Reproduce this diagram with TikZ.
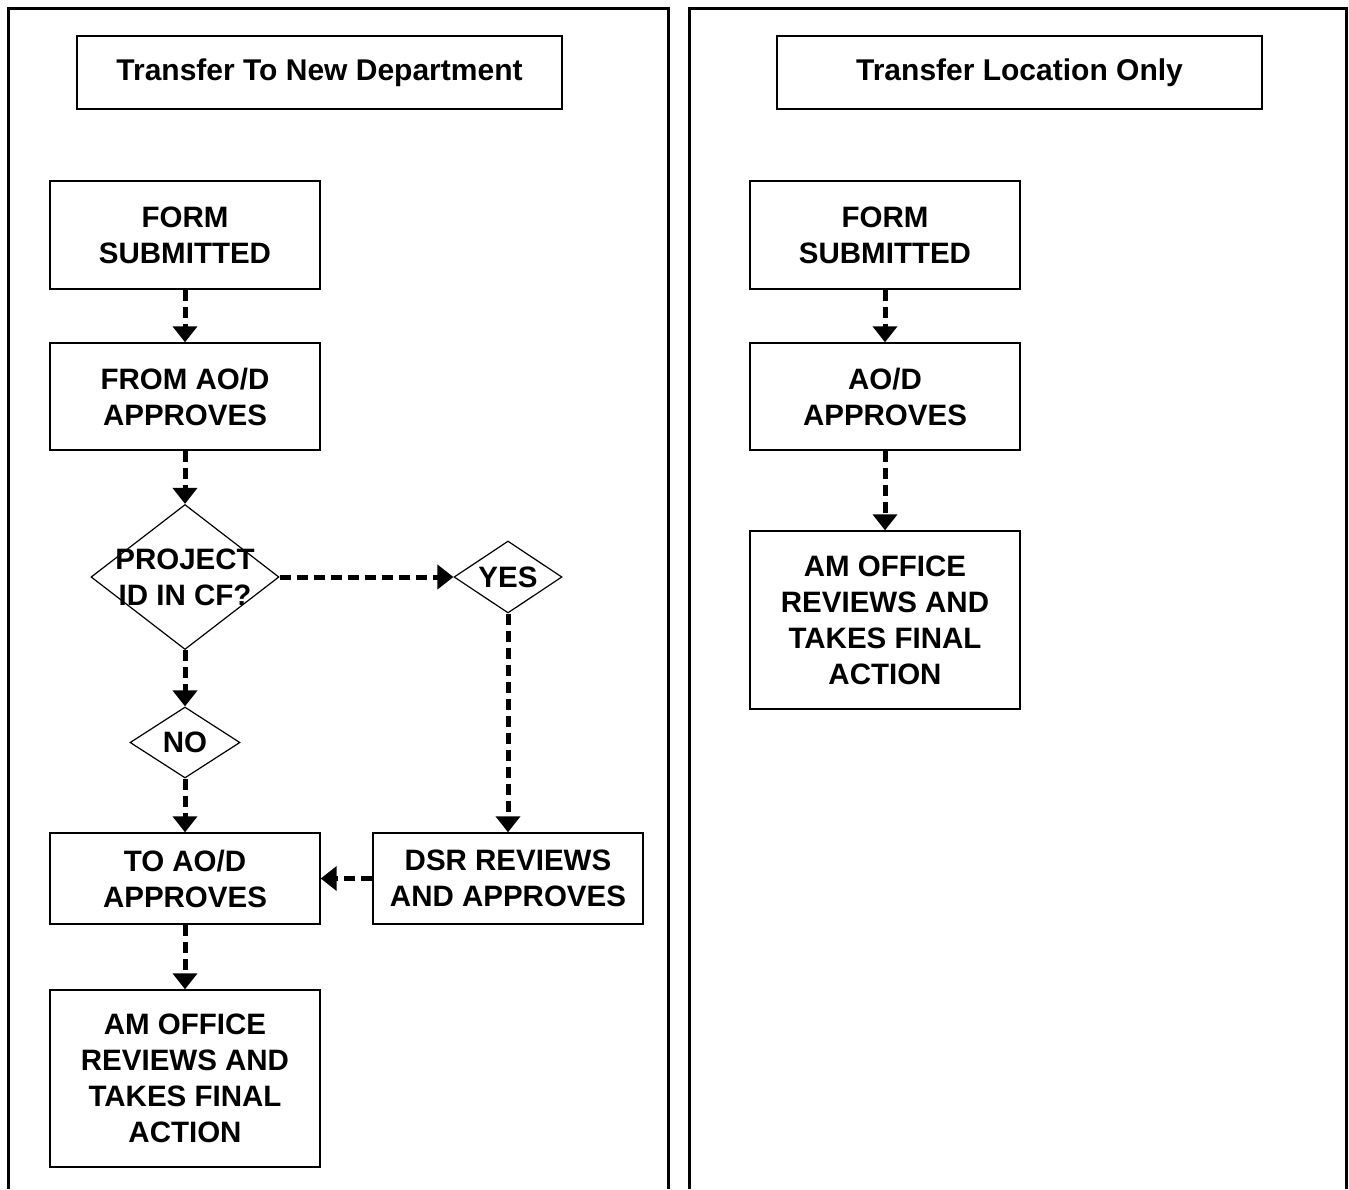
\documentclass[tikz,border=0pt]{standalone}
\usepackage{fontspec}
\setmainfont{Liberation Sans}
\usetikzlibrary{shapes.geometric,arrows.meta}

\tikzset{
  panel/.style={line width=3pt},
  stepbox/.style={draw, line width=1.4pt, minimum width=270pt, align=center,
    font=\fontsize{29.5}{36}\selectfont\bfseries, inner sep=0pt},
  titlebox/.style={draw, line width=1.4pt, minimum width=485pt, minimum height=73pt,
    font=\fontsize{30}{36}\selectfont\bfseries, inner sep=0pt},
  decision/.style={draw, diamond, line width=1.2pt, inner sep=0pt},
  txt/.style={align=center, font=\fontsize{29.5}{36}\selectfont\bfseries, inner sep=0pt},
  flow/.style={-{Triangle[length=16pt,width=24pt]}, line width=5pt,
    dash pattern=on 11pt off 6pt}
}

\begin{document}
\begin{tikzpicture}[x=1pt,y=-1pt]
\useasboundingbox (0,0) rectangle (1349,1189);

% panels
\draw[panel] (8,1189) -- (8,8) -- (668,8) -- (668,1189);
\draw[panel] (689,1189) -- (689,8) -- (1346,8) -- (1346,1189);

% left column
\node[titlebox] (tdept) at (319.5,72.5) {Transfer To New Department};
\node[stepbox, minimum height=108pt] (lform) at (185,235) {FORM\\SUBMITTED};
\node[stepbox, minimum height=107pt] (fromao) at (185,396.5) {FROM AO/D\\APPROVES};
\node[decision, minimum width=188pt, minimum height=145pt] (proj) at (185,577) {};
\node[txt] (projtxt) at (proj) {PROJECT\\ID IN CF?};
\node[decision, minimum width=108pt, minimum height=72pt] (yes) at (508,577) {};
\node[txt] (yestxt) at (yes) {YES};
\node[decision, minimum width=110pt, minimum height=71pt] (no) at (185,742.5) {};
\node[txt] (notxt) at (no) {NO};
\node[stepbox, minimum height=91pt] (toao) at (185,878.5) {TO AO/D\\APPROVES};
\node[stepbox, minimum height=91pt] (dsr) at (508,878.5) {DSR REVIEWS\\AND APPROVES};
\node[stepbox, minimum height=177pt] (lam) at (185,1078.5) {AM OFFICE\\REVIEWS AND\\TAKES FINAL\\ACTION};

\draw[flow] (lform) -- (fromao);
\draw[flow] (fromao) -- (proj);
\draw[flow] (proj) -- (yes);
\draw[flow] (proj) -- (no);
\draw[flow] (yes) -- (dsr);
\draw[flow] (no) -- (toao);
\draw[flow] (dsr) -- (toao);
\draw[flow] (toao) -- (lam);

% right column
\node[titlebox] (tloc) at (1019.5,72.5) {Transfer Location Only};
\node[stepbox, minimum height=108pt] (rform) at (885,235) {FORM\\SUBMITTED};
\node[stepbox, minimum height=107pt] (aod) at (885,396.5) {AO/D\\APPROVES};
\node[stepbox, minimum height=178pt] (ram) at (885,620) {AM OFFICE\\REVIEWS AND\\TAKES FINAL\\ACTION};

\draw[flow] (rform) -- (aod);
\draw[flow] (aod) -- (ram);
\end{tikzpicture}
\end{document}
